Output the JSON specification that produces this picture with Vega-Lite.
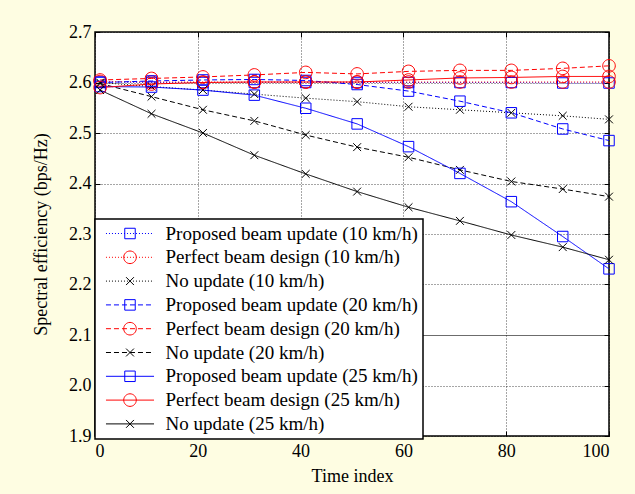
{
  "$schema": "https://vega.github.io/schema/vega-lite/v6.json",
  "width": 514,
  "height": 404,
  "autosize": {"type": "none"},
  "padding": {"left": 95, "top": 32, "right": 26, "bottom": 58},
  "background": "#FEFDE2",
  "config": {
    "view": {"fill": "white", "stroke": "black", "strokeWidth": 1.5},
    "font": "Liberation Serif",
    "legend": {"strokeWidth": 1.5},
    "axis": {
      "labelFont": "Liberation Serif",
      "labelFontSize": 18,
      "labelColor": "black",
      "titleFont": "Liberation Serif",
      "titleFontSize": 18,
      "titleFontWeight": "normal",
      "titleColor": "black",
      "domain": false,
      "grid": true,
      "gridColor": "black",
      "gridOpacity": 0.7,
      "gridWidth": 1,
      "ticks": true,
      "tickSize": -5,
      "tickColor": "black",
      "tickWidth": 1
    }
  },
  "data": {
    "values": [
      {"s": "Proposed beam update (10 km/h)", "x": 1, "y": 2.601},
      {"s": "Proposed beam update (10 km/h)", "x": 11, "y": 2.600},
      {"s": "Proposed beam update (10 km/h)", "x": 21, "y": 2.600},
      {"s": "Proposed beam update (10 km/h)", "x": 31, "y": 2.600},
      {"s": "Proposed beam update (10 km/h)", "x": 41, "y": 2.600},
      {"s": "Proposed beam update (10 km/h)", "x": 51, "y": 2.600},
      {"s": "Proposed beam update (10 km/h)", "x": 61, "y": 2.600},
      {"s": "Proposed beam update (10 km/h)", "x": 71, "y": 2.600},
      {"s": "Proposed beam update (10 km/h)", "x": 81, "y": 2.600},
      {"s": "Proposed beam update (10 km/h)", "x": 91, "y": 2.599},
      {"s": "Proposed beam update (10 km/h)", "x": 100, "y": 2.599},
      {"s": "Perfect beam design (10 km/h)", "x": 1, "y": 2.602},
      {"s": "Perfect beam design (10 km/h)", "x": 11, "y": 2.601},
      {"s": "Perfect beam design (10 km/h)", "x": 21, "y": 2.601},
      {"s": "Perfect beam design (10 km/h)", "x": 31, "y": 2.601},
      {"s": "Perfect beam design (10 km/h)", "x": 41, "y": 2.601},
      {"s": "Perfect beam design (10 km/h)", "x": 51, "y": 2.601},
      {"s": "Perfect beam design (10 km/h)", "x": 61, "y": 2.601},
      {"s": "Perfect beam design (10 km/h)", "x": 71, "y": 2.601},
      {"s": "Perfect beam design (10 km/h)", "x": 81, "y": 2.601},
      {"s": "Perfect beam design (10 km/h)", "x": 91, "y": 2.601},
      {"s": "Perfect beam design (10 km/h)", "x": 100, "y": 2.601},
      {"s": "No update (10 km/h)", "x": 1, "y": 2.600},
      {"s": "No update (10 km/h)", "x": 11, "y": 2.592},
      {"s": "No update (10 km/h)", "x": 21, "y": 2.585},
      {"s": "No update (10 km/h)", "x": 31, "y": 2.577},
      {"s": "No update (10 km/h)", "x": 41, "y": 2.569},
      {"s": "No update (10 km/h)", "x": 51, "y": 2.562},
      {"s": "No update (10 km/h)", "x": 61, "y": 2.552},
      {"s": "No update (10 km/h)", "x": 71, "y": 2.546},
      {"s": "No update (10 km/h)", "x": 81, "y": 2.540},
      {"s": "No update (10 km/h)", "x": 91, "y": 2.534},
      {"s": "No update (10 km/h)", "x": 100, "y": 2.527},
      {"s": "Proposed beam update (20 km/h)", "x": 1, "y": 2.600},
      {"s": "Proposed beam update (20 km/h)", "x": 11, "y": 2.603},
      {"s": "Proposed beam update (20 km/h)", "x": 21, "y": 2.605},
      {"s": "Proposed beam update (20 km/h)", "x": 31, "y": 2.606},
      {"s": "Proposed beam update (20 km/h)", "x": 41, "y": 2.604},
      {"s": "Proposed beam update (20 km/h)", "x": 51, "y": 2.596},
      {"s": "Proposed beam update (20 km/h)", "x": 61, "y": 2.583},
      {"s": "Proposed beam update (20 km/h)", "x": 71, "y": 2.563},
      {"s": "Proposed beam update (20 km/h)", "x": 81, "y": 2.540},
      {"s": "Proposed beam update (20 km/h)", "x": 91, "y": 2.508},
      {"s": "Proposed beam update (20 km/h)", "x": 100, "y": 2.485},
      {"s": "Perfect beam design (20 km/h)", "x": 1, "y": 2.605},
      {"s": "Perfect beam design (20 km/h)", "x": 11, "y": 2.608},
      {"s": "Perfect beam design (20 km/h)", "x": 21, "y": 2.611},
      {"s": "Perfect beam design (20 km/h)", "x": 31, "y": 2.615},
      {"s": "Perfect beam design (20 km/h)", "x": 41, "y": 2.620},
      {"s": "Perfect beam design (20 km/h)", "x": 51, "y": 2.617},
      {"s": "Perfect beam design (20 km/h)", "x": 61, "y": 2.622},
      {"s": "Perfect beam design (20 km/h)", "x": 71, "y": 2.624},
      {"s": "Perfect beam design (20 km/h)", "x": 81, "y": 2.624},
      {"s": "Perfect beam design (20 km/h)", "x": 91, "y": 2.628},
      {"s": "Perfect beam design (20 km/h)", "x": 100, "y": 2.633},
      {"s": "No update (20 km/h)", "x": 1, "y": 2.598},
      {"s": "No update (20 km/h)", "x": 11, "y": 2.572},
      {"s": "No update (20 km/h)", "x": 21, "y": 2.546},
      {"s": "No update (20 km/h)", "x": 31, "y": 2.524},
      {"s": "No update (20 km/h)", "x": 41, "y": 2.496},
      {"s": "No update (20 km/h)", "x": 51, "y": 2.472},
      {"s": "No update (20 km/h)", "x": 61, "y": 2.452},
      {"s": "No update (20 km/h)", "x": 71, "y": 2.427},
      {"s": "No update (20 km/h)", "x": 81, "y": 2.404},
      {"s": "No update (20 km/h)", "x": 91, "y": 2.389},
      {"s": "No update (20 km/h)", "x": 100, "y": 2.374},
      {"s": "Proposed beam update (25 km/h)", "x": 1, "y": 2.592},
      {"s": "Proposed beam update (25 km/h)", "x": 11, "y": 2.591},
      {"s": "Proposed beam update (25 km/h)", "x": 21, "y": 2.585},
      {"s": "Proposed beam update (25 km/h)", "x": 31, "y": 2.575},
      {"s": "Proposed beam update (25 km/h)", "x": 41, "y": 2.549},
      {"s": "Proposed beam update (25 km/h)", "x": 51, "y": 2.518},
      {"s": "Proposed beam update (25 km/h)", "x": 61, "y": 2.473},
      {"s": "Proposed beam update (25 km/h)", "x": 71, "y": 2.420},
      {"s": "Proposed beam update (25 km/h)", "x": 81, "y": 2.364},
      {"s": "Proposed beam update (25 km/h)", "x": 91, "y": 2.295},
      {"s": "Proposed beam update (25 km/h)", "x": 100, "y": 2.231},
      {"s": "Perfect beam design (25 km/h)", "x": 1, "y": 2.590},
      {"s": "Perfect beam design (25 km/h)", "x": 11, "y": 2.597},
      {"s": "Perfect beam design (25 km/h)", "x": 21, "y": 2.600},
      {"s": "Perfect beam design (25 km/h)", "x": 31, "y": 2.601},
      {"s": "Perfect beam design (25 km/h)", "x": 41, "y": 2.601},
      {"s": "Perfect beam design (25 km/h)", "x": 51, "y": 2.601},
      {"s": "Perfect beam design (25 km/h)", "x": 61, "y": 2.605},
      {"s": "Perfect beam design (25 km/h)", "x": 71, "y": 2.609},
      {"s": "Perfect beam design (25 km/h)", "x": 81, "y": 2.610},
      {"s": "Perfect beam design (25 km/h)", "x": 91, "y": 2.612},
      {"s": "Perfect beam design (25 km/h)", "x": 100, "y": 2.612},
      {"s": "No update (25 km/h)", "x": 1, "y": 2.585},
      {"s": "No update (25 km/h)", "x": 11, "y": 2.538},
      {"s": "No update (25 km/h)", "x": 21, "y": 2.500},
      {"s": "No update (25 km/h)", "x": 31, "y": 2.456},
      {"s": "No update (25 km/h)", "x": 41, "y": 2.419},
      {"s": "No update (25 km/h)", "x": 51, "y": 2.384},
      {"s": "No update (25 km/h)", "x": 61, "y": 2.353},
      {"s": "No update (25 km/h)", "x": 71, "y": 2.326},
      {"s": "No update (25 km/h)", "x": 81, "y": 2.298},
      {"s": "No update (25 km/h)", "x": 91, "y": 2.274},
      {"s": "No update (25 km/h)", "x": 100, "y": 2.249}
    ]
  },
  "layer": [
    {
      "mark": {"type": "line", "strokeWidth": 1},
      "encoding": {
        "x": {
          "field": "x", "type": "quantitative",
          "scale": {"domain": [0, 100], "nice": false, "zero": false},
          "axis": {
            "values": [0, 20, 40, 60, 80, 100],
            "title": "Time index",
            "labelPadding": 11.5,
            "titleBaseline": "middle",
            "titleY": 40,
            "gridDash": [1, 2]
          }
        },
        "y": {
          "field": "y", "type": "quantitative",
          "scale": {"domain": [1.9, 2.7], "nice": false, "zero": false},
          "axis": {
            "values": [1.9, 2.0, 2.1, 2.2, 2.3, 2.4, 2.5, 2.6, 2.7],
            "format": ".1f",
            "title": "Spectral efficiency (bps/Hz)",
            "labelPadding": 9,
            "titlePadding": 18,
            "gridDash": {"condition": {"test": "abs(datum.value - 2.1) < 0.001", "value": [1, 0]}, "value": [1, 2]}
          }
        },
        "color": {
          "field": "s", "type": "nominal",
          "scale": {
            "domain": ["Proposed beam update (10 km/h)", "Perfect beam design (10 km/h)", "No update (10 km/h)", "Proposed beam update (20 km/h)", "Perfect beam design (20 km/h)", "No update (20 km/h)", "Proposed beam update (25 km/h)", "Perfect beam design (25 km/h)", "No update (25 km/h)"],
            "range": ["#0000FF", "#FF0000", "#000000", "#0000FF", "#FF0000", "#000000", "#0000FF", "#FF0000", "#000000"]
          },
          "legend": {
            "orient": "none", "legendX": 0, "legendY": 187, "title": null,
            "padding": 5, "fillColor": "white", "strokeColor": "black",
            "symbolType": "M-4.58,0H4.58", "symbolSize": 110, "symbolStrokeWidth": 1,
            "symbolOffset": 20.5, "labelOffset": 26,
            "labelFont": "Liberation Serif", "labelFontSize": 19, "labelLimit": 400, "labelColor": "black",
            "rowPadding": 3.8, "zindex": 1
          }
        },
        "strokeDash": {
          "field": "s", "type": "nominal",
          "scale": {
            "domain": ["Proposed beam update (10 km/h)", "Perfect beam design (10 km/h)", "No update (10 km/h)", "Proposed beam update (20 km/h)", "Perfect beam design (20 km/h)", "No update (20 km/h)", "Proposed beam update (25 km/h)", "Perfect beam design (25 km/h)", "No update (25 km/h)"],
            "range": [[1, 2], [1, 2], [1, 2], [5, 3], [5, 3], [5, 3], [1, 0], [1, 0], [1, 0]]
          },
          "legend": {
            "orient": "none", "legendX": 0, "legendY": 187, "title": null,
            "padding": 5, "fillColor": "white", "strokeColor": "black",
            "symbolType": "M-4.58,0H4.58", "symbolSize": 110, "symbolStrokeWidth": 1,
            "symbolOffset": 20.5, "labelOffset": 26,
            "labelFont": "Liberation Serif", "labelFontSize": 19, "labelLimit": 400, "labelColor": "black",
            "rowPadding": 3.8, "zindex": 1
          }
        }
      }
    },
    {
      "mark": {"type": "point", "filled": false, "size": 110, "strokeWidth": 1, "opacity": 1},
      "encoding": {
        "x": {
          "field": "x", "type": "quantitative",
          "scale": {"domain": [0, 100], "nice": false, "zero": false},
          "axis": {"orient": "top", "values": [0, 20, 40, 60, 80, 100], "labels": false, "grid": false, "title": null}
        },
        "y": {
          "field": "y", "type": "quantitative",
          "scale": {"domain": [1.9, 2.7], "nice": false, "zero": false},
          "axis": {"orient": "right", "values": [1.9, 2.0, 2.1, 2.2, 2.3, 2.4, 2.5, 2.6, 2.7], "labels": false, "grid": false, "title": null}
        },
        "color": {
          "field": "s", "type": "nominal",
          "scale": {
            "domain": ["Proposed beam update (10 km/h)", "Perfect beam design (10 km/h)", "No update (10 km/h)", "Proposed beam update (20 km/h)", "Perfect beam design (20 km/h)", "No update (20 km/h)", "Proposed beam update (25 km/h)", "Perfect beam design (25 km/h)", "No update (25 km/h)"],
            "range": ["#0000FF", "#FF0000", "#000000", "#0000FF", "#FF0000", "#000000", "#0000FF", "#FF0000", "#000000"]
          },
          "legend": {
            "orient": "none", "legendX": 0, "legendY": 187, "title": null,
            "padding": 5, "fillColor": "transparent", "strokeColor": "transparent",
            "symbolSize": 110, "symbolStrokeWidth": 1, "symbolOffset": 20.5,
            "labelFont": "Liberation Serif", "labelFontSize": 19, "labelLimit": 400,
            "labelOpacity": 0, "labelOffset": 26,
            "rowPadding": 3.8, "zindex": 2
          }
        },
        "shape": {
          "field": "s", "type": "nominal",
          "scale": {
            "domain": ["Proposed beam update (10 km/h)", "Perfect beam design (10 km/h)", "No update (10 km/h)", "Proposed beam update (20 km/h)", "Perfect beam design (20 km/h)", "No update (20 km/h)", "Proposed beam update (25 km/h)", "Perfect beam design (25 km/h)", "No update (25 km/h)"],
            "range": ["M-1,-1H1V1H-1Z", "M-1.2,0A1.2,1.2 0 1,1 1.2,0A1.2,1.2 0 1,1 -1.2,0Z", "M-0.75,-0.75L0.75,0.75M-0.75,0.75L0.75,-0.75", "M-1,-1H1V1H-1Z", "M-1.2,0A1.2,1.2 0 1,1 1.2,0A1.2,1.2 0 1,1 -1.2,0Z", "M-0.75,-0.75L0.75,0.75M-0.75,0.75L0.75,-0.75", "M-1,-1H1V1H-1Z", "M-1.2,0A1.2,1.2 0 1,1 1.2,0A1.2,1.2 0 1,1 -1.2,0Z", "M-0.75,-0.75L0.75,0.75M-0.75,0.75L0.75,-0.75"]
          },
          "legend": {
            "orient": "none", "legendX": 0, "legendY": 187, "title": null,
            "padding": 5, "fillColor": "transparent", "strokeColor": "transparent",
            "symbolSize": 110, "symbolStrokeWidth": 1, "symbolOffset": 20.5,
            "labelFont": "Liberation Serif", "labelFontSize": 19, "labelLimit": 400,
            "labelOpacity": 0, "labelOffset": 26,
            "rowPadding": 3.8, "zindex": 2
          }
        }
      }
    }
  ],
  "resolve": {
    "scale": {"color": "independent", "strokeDash": "independent", "shape": "independent"},
    "legend": {"color": "independent", "strokeDash": "independent", "shape": "independent"},
    "axis": {"x": "independent", "y": "independent"}
  }
}
